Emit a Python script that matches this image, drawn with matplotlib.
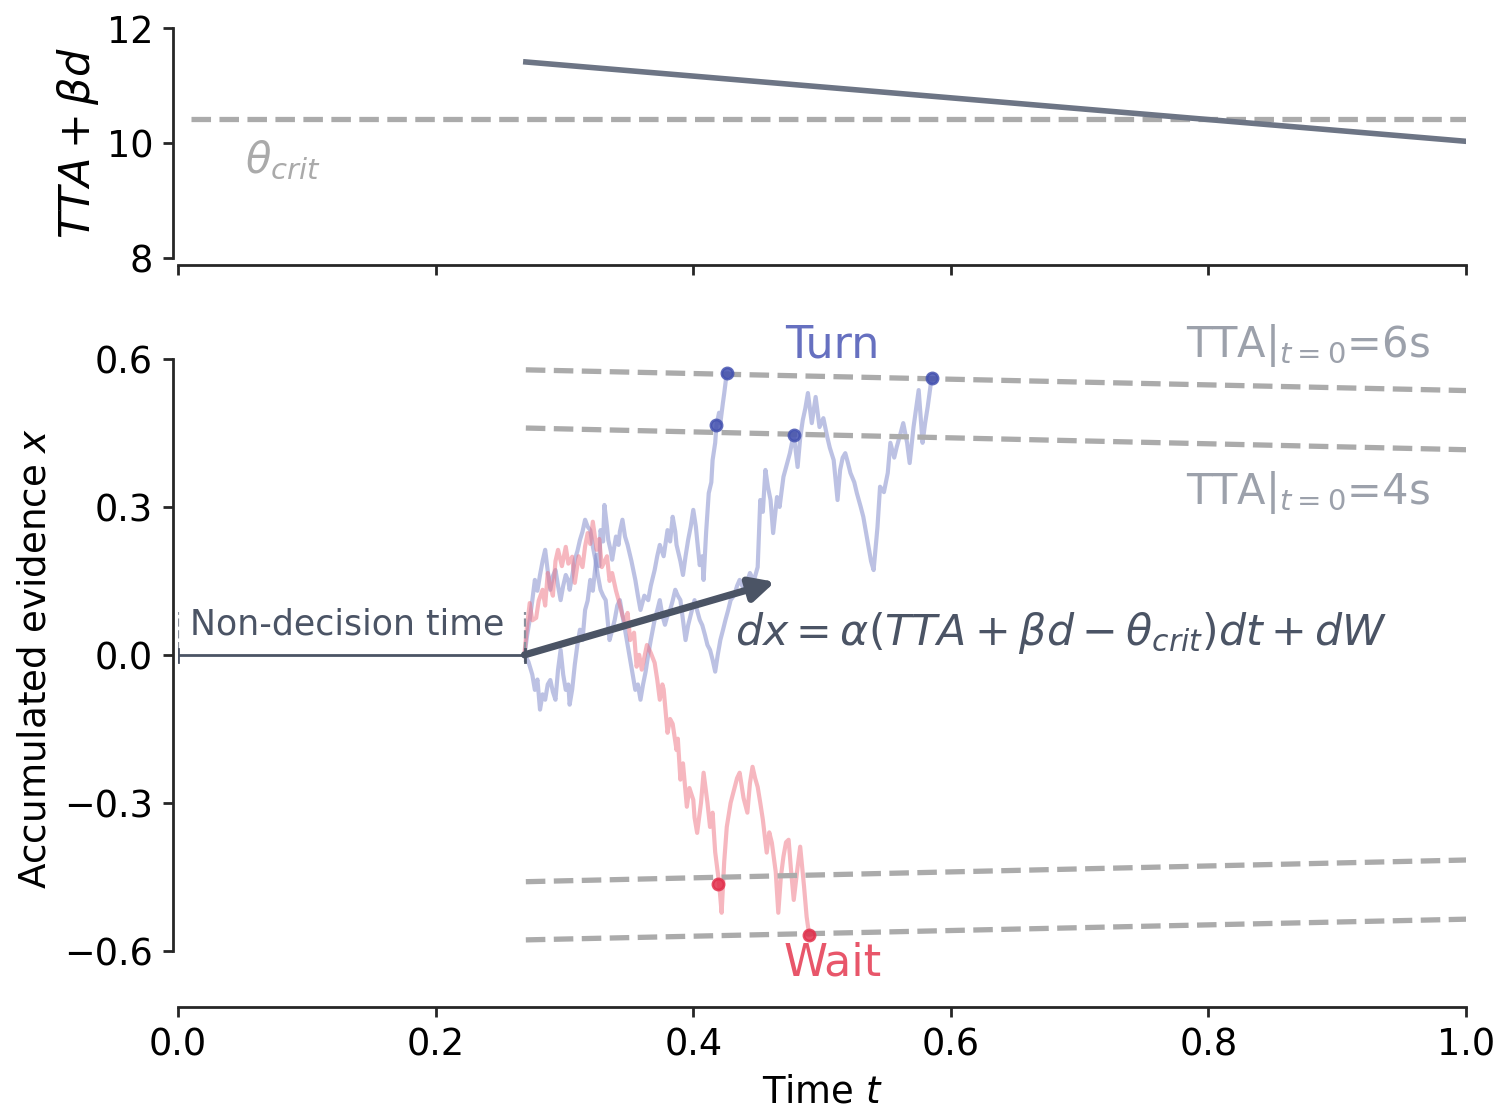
import matplotlib
matplotlib.use("Agg")
import matplotlib.pyplot as plt

# ---- data ------------------------------------------------------------------
# top panel: TTA + beta*d over time, critical threshold
DRIVE_T = [0.27, 1.0]
DRIVE_Y = [11.41, 10.03]
THETA_CRIT = 10.42

# decision boundaries (upper; lower is the mirror image)
BOUND_T = [0.27, 1.0]
BOUND_6S = [0.578, 0.536]
BOUND_4S = [0.460, 0.416]

NON_DECISION = 0.269
DRIFT_END = (0.4635, 0.148)

# red ("Wait") trajectory
WAIT_T = [0.269, 0.271, 0.273, 0.275, 0.278, 0.280, 0.283, 0.285, 0.287, 0.289,
          0.291, 0.293, 0.295, 0.298, 0.301, 0.303, 0.306, 0.308, 0.311, 0.314,
          0.316, 0.318, 0.320, 0.322, 0.325, 0.327, 0.329, 0.333, 0.335, 0.337,
          0.340, 0.342, 0.345, 0.347, 0.349, 0.351, 0.354, 0.356, 0.358, 0.360,
          0.362, 0.364, 0.367, 0.370, 0.372, 0.374, 0.376, 0.377, 0.380, 0.382,
          0.384, 0.387, 0.388, 0.390, 0.392, 0.395, 0.397, 0.400, 0.401, 0.403,
          0.406, 0.408, 0.411, 0.413, 0.415, 0.417, 0.420, 0.422, 0.424, 0.426,
          0.429, 0.431, 0.434, 0.436, 0.439, 0.442, 0.444, 0.446, 0.448, 0.450,
          0.452, 0.454, 0.457, 0.459, 0.461, 0.464, 0.466, 0.468, 0.470, 0.472,
          0.474, 0.476, 0.478, 0.481, 0.483, 0.486, 0.488, 0.490]
WAIT_X = [0.004, 0.060, 0.105, 0.070, 0.075, 0.110, 0.132, 0.100, 0.166, 0.140,
          0.120, 0.190, 0.213, 0.180, 0.219, 0.185, 0.199, 0.146, 0.200, 0.178,
          0.220, 0.247, 0.225, 0.270, 0.213, 0.235, 0.178, 0.200, 0.150, 0.166,
          0.130, 0.111, 0.080, 0.065, 0.085, 0.030, 0.045, -0.024, 0.000, -0.030,
          -0.005, 0.020, 0.004, -0.016, -0.050, -0.091, -0.060, -0.070, -0.158, -0.130,
          -0.140, -0.193, -0.170, -0.253, -0.220, -0.308, -0.270, -0.294, -0.330, -0.361,
          -0.300, -0.239, -0.300, -0.349, -0.320, -0.400, -0.462, -0.523, -0.420, -0.349,
          -0.300, -0.280, -0.250, -0.239, -0.290, -0.320, -0.260, -0.227, -0.250, -0.268,
          -0.300, -0.334, -0.401, -0.360, -0.381, -0.440, -0.523, -0.450, -0.409, -0.380,
          -0.375, -0.440, -0.497, -0.430, -0.389, -0.470, -0.531, -0.568]
WAIT_DOTS_T = [0.419, 0.490]
WAIT_DOTS_X = [-0.464, -0.568]

# blue ("Turn") trajectory that crosses early
TURN_A_T = [0.269, 0.272, 0.275, 0.277, 0.279, 0.281, 0.283, 0.285, 0.287, 0.289,
            0.291, 0.293, 0.295, 0.297, 0.299, 0.301, 0.303, 0.304, 0.306, 0.308,
            0.310, 0.312, 0.314, 0.316, 0.318, 0.320, 0.322, 0.325, 0.327, 0.328,
            0.330, 0.331, 0.333, 0.334, 0.336, 0.337, 0.340, 0.342, 0.343, 0.345,
            0.347, 0.349, 0.352, 0.355, 0.357, 0.359, 0.362, 0.365, 0.367, 0.370,
            0.372, 0.374, 0.377, 0.380, 0.382, 0.384, 0.386, 0.387, 0.390, 0.392,
            0.394, 0.396, 0.398, 0.400, 0.402, 0.403, 0.405, 0.407, 0.408, 0.410,
            0.412, 0.414, 0.415, 0.417, 0.418, 0.420, 0.421, 0.423, 0.424, 0.426]
TURN_A_X = [0.000, -0.014, -0.040, -0.071, -0.050, -0.111, -0.080, -0.091, -0.060, -0.051,
            -0.075, -0.091, -0.030, 0.010, -0.040, -0.071, -0.060, -0.101, -0.070, -0.020,
            0.020, 0.051, 0.030, 0.091, 0.110, 0.152, 0.130, 0.203, 0.180, 0.253,
            0.230, 0.304, 0.260, 0.233, 0.210, 0.193, 0.240, 0.223, 0.250, 0.274,
            0.240, 0.223, 0.190, 0.152, 0.120, 0.091, 0.120, 0.111, 0.140, 0.172,
            0.200, 0.223, 0.200, 0.253, 0.230, 0.280, 0.250, 0.223, 0.190, 0.162,
            0.200, 0.233, 0.260, 0.294, 0.260, 0.233, 0.182, 0.200, 0.152, 0.250,
            0.328, 0.350, 0.395, 0.430, 0.466, 0.491, 0.470, 0.511, 0.530, 0.572]

# blue ("Turn") trajectory that crosses late
TURN_B_T = [0.269, 0.271, 0.273, 0.275, 0.277, 0.279, 0.281, 0.283, 0.285, 0.287,
            0.289, 0.291, 0.293, 0.295, 0.297, 0.299, 0.301, 0.303, 0.304, 0.306,
            0.308, 0.310, 0.312, 0.314, 0.316, 0.318, 0.320, 0.322, 0.324, 0.326,
            0.328, 0.330, 0.332, 0.335, 0.337, 0.339, 0.341, 0.343, 0.345, 0.347,
            0.349, 0.351, 0.353, 0.355, 0.357, 0.359, 0.361, 0.363, 0.365, 0.367,
            0.370, 0.372, 0.374, 0.376, 0.378, 0.380, 0.382, 0.384, 0.386, 0.388,
            0.390, 0.392, 0.394, 0.396, 0.398, 0.401, 0.403, 0.405, 0.407, 0.409,
            0.411, 0.413, 0.415, 0.417, 0.419, 0.421, 0.423, 0.425, 0.427, 0.429,
            0.432, 0.434, 0.436, 0.438, 0.440, 0.442, 0.444, 0.447, 0.450, 0.452,
            0.454, 0.456, 0.458, 0.460, 0.462, 0.465, 0.467, 0.470, 0.472, 0.475,
            0.478, 0.481, 0.483, 0.485, 0.487, 0.489, 0.492, 0.495, 0.498, 0.501,
            0.504, 0.506, 0.509, 0.512, 0.514, 0.516, 0.518, 0.520, 0.522, 0.525,
            0.527, 0.530, 0.532, 0.534, 0.536, 0.538, 0.540, 0.543, 0.545, 0.548,
            0.551, 0.553, 0.556, 0.558, 0.561, 0.563, 0.566, 0.568, 0.571, 0.573,
            0.575, 0.578, 0.580, 0.582, 0.585]
TURN_B_X = [0.000, 0.040, 0.071, 0.110, 0.152, 0.130, 0.162, 0.190, 0.213, 0.170,
            0.132, 0.160, 0.172, 0.140, 0.111, 0.140, 0.162, 0.150, 0.132, 0.160,
            0.193, 0.210, 0.233, 0.250, 0.274, 0.260, 0.253, 0.220, 0.193, 0.160,
            0.132, 0.120, 0.111, 0.030, 0.050, 0.071, 0.100, 0.111, 0.080, 0.051,
            0.020, -0.010, -0.040, -0.071, -0.060, -0.091, -0.060, -0.034, 0.000, 0.030,
            0.071, 0.090, 0.111, 0.080, 0.061, 0.080, 0.091, 0.110, 0.132, 0.120,
            0.111, 0.070, 0.030, 0.060, 0.081, 0.111, 0.090, 0.071, 0.060, 0.041,
            0.020, 0.010, -0.010, -0.034, 0.000, 0.030, 0.050, 0.071, 0.090, 0.111,
            0.122, 0.140, 0.152, 0.140, 0.132, 0.150, 0.166, 0.150, 0.178, 0.314,
            0.290, 0.375, 0.340, 0.314, 0.247, 0.320, 0.300, 0.361, 0.380, 0.409,
            0.448, 0.381, 0.440, 0.476, 0.500, 0.531, 0.470, 0.523, 0.462, 0.480,
            0.442, 0.420, 0.395, 0.314, 0.375, 0.400, 0.409, 0.390, 0.369, 0.350,
            0.328, 0.300, 0.280, 0.250, 0.219, 0.190, 0.172, 0.259, 0.341, 0.330,
            0.369, 0.430, 0.400, 0.422, 0.450, 0.470, 0.430, 0.389, 0.462, 0.500,
            0.537, 0.430, 0.470, 0.503, 0.561]
TURN_DOTS_T = [0.418, 0.426, 0.478, 0.585]
TURN_DOTS_X = [0.466, 0.572, 0.445, 0.561]

XTICKS = [0.0, 0.2, 0.4, 0.6, 0.8, 1.0]

# ---- styling ----------------------------------------------------------------
BLUE = "#7a85c8"
BLUE_DOT = "#4452b0"
RED = "#ee7080"
RED_DOT = "#e2314d"
GREY_DASH = "#ababab"
SLATE = "#4b5465"
LABEL_GREY = "#9ca1ab"

plt.rcParams["font.family"] = "DejaVu Sans"
plt.rcParams["mathtext.fontset"] = "dejavusans"


def style_axes(ax, ybounds):
    for side in ("top", "right"):
        ax.spines[side].set_visible(False)
    for side in ("left", "bottom"):
        ax.spines[side].set_linewidth(1.0)
        ax.spines[side].set_color("#262626")
    ax.spines["left"].set_position(("outward", 2))
    ax.spines["left"].set_bounds(*ybounds)
    ax.spines["bottom"].set_bounds(0, 1)
    ax.tick_params(direction="out", length=3.5, width=1.0, labelsize=13.2,
                   color="#262626")
    ax.set_xlim(0, 1)
    ax.set_xticks(XTICKS)


fig = plt.figure(figsize=(7.52, 5.54), dpi=200)

# top panel
ax1 = fig.add_axes([0.1184, 0.7671, 0.8564, 0.2076])
ax1.plot([0.01, 1.0], [THETA_CRIT, THETA_CRIT], ls="--", lw=1.9, color=GREY_DASH)
ax1.plot(DRIVE_T, DRIVE_Y, color="#6d7585", lw=2.0)
ax1.text(0.052, 9.7, r"$\theta_{crit}$", fontsize=15, color="#aaaaaa",
         va="center", ha="left")
ax1.set_ylim(8, 12)
ax1.set_yticks([8, 10, 12])
style_axes(ax1, (8, 12))
ax1.spines["bottom"].set_position(("outward", 2.5))
ax1.set_xticklabels([])
ax1.set_ylabel(r"$TTA + \beta d$", fontsize=15.5, labelpad=2)

# bottom panel
ax2 = fig.add_axes([0.1184, 0.0912, 0.8564, 0.6293])
for b in (BOUND_6S, BOUND_4S):
    ax2.plot(BOUND_T, b, ls="--", lw=1.9, color=GREY_DASH, zorder=3)
    ax2.plot(BOUND_T, [-v for v in b], ls="--", lw=1.9, color=GREY_DASH, zorder=3)

ax2.plot(TURN_A_T, TURN_A_X, color=BLUE, lw=1.5, alpha=0.5, zorder=2)
ax2.plot(TURN_B_T, TURN_B_X, color=BLUE, lw=1.5, alpha=0.5, zorder=2)
ax2.plot(WAIT_T, WAIT_X, color=RED, lw=1.5, alpha=0.5, zorder=2)
ax2.plot(TURN_DOTS_T, TURN_DOTS_X, "o", ms=4, color=BLUE_DOT, alpha=0.85,
         zorder=4)
ax2.plot(WAIT_DOTS_T, WAIT_DOTS_X, "o", ms=4, color=RED_DOT, alpha=0.85,
         zorder=4)

# non-decision time bracket
ax2.plot([0, NON_DECISION], [0, 0], color=SLATE, lw=1.0, zorder=3)
for xv in (0.0, NON_DECISION):
    ax2.plot([xv, xv], [-0.014, 0.087], ls="--", lw=0.8, color="#8a909c",
             zorder=3)
    ax2.plot([xv, xv], [-0.014, 0.012], lw=1.0, color=SLATE, zorder=3)
ax2.text(NON_DECISION / 2 - 0.003, 0.061, "Non-decision time", fontsize=12.5,
         color=SLATE, ha="center", va="center")

# drift arrow + equation
ax2.annotate("", xy=DRIFT_END, xytext=(NON_DECISION, 0.0),
             arrowprops=dict(arrowstyle="-|>", color=SLATE, lw=2.6,
                             mutation_scale=18, shrinkA=0, shrinkB=0),
             zorder=5)
ax2.text(0.432, 0.045,
         r"$dx = \alpha(TTA + \beta d - \theta_{crit})dt + dW$",
         fontsize=15.4, color=SLATE, ha="left", va="center")

ax2.text(0.508, 0.628, "Turn", fontsize=16, color="#6670c0",
         ha="center", va="center")
ax2.text(0.508, -0.624, "Wait", fontsize=16, color="#e8566a",
         ha="center", va="center")
ax2.text(0.877, 0.628, r"TTA$|_{t=0}$=6s", fontsize=15, color=LABEL_GREY,
         ha="center", va="center")
ax2.text(0.877, 0.330, r"TTA$|_{t=0}$=4s", fontsize=15, color=LABEL_GREY,
         ha="center", va="center")

ax2.set_ylim(-0.714, 0.70)
ax2.set_yticks([-0.6, -0.3, 0.0, 0.3, 0.6])
style_axes(ax2, (-0.6, 0.6))
ax2.set_xticklabels([f"{v:.1f}" for v in XTICKS])
ax2.set_xlabel(r"Time $t$", fontsize=13.3, labelpad=3.5)
ax2.set_ylabel(r"Accumulated evidence $x$", fontsize=13.4, labelpad=4)

fig.savefig("out.png", dpi=200)
